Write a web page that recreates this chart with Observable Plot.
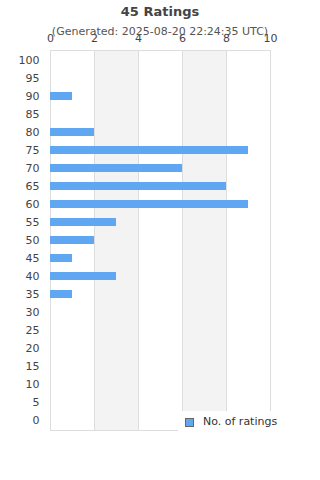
<!DOCTYPE html>
<html>
<head>
<meta charset="utf-8">
<script src="https://cdn.jsdelivr.net/npm/d3@7"></script>
<script src="https://cdn.jsdelivr.net/npm/@observablehq/plot@0.6"></script>
<style>
  html, body { margin: 0; padding: 0; background: #fff; }
  #wrap { position: relative; width: 320px; height: 480px; font-family: "DejaVu Sans", sans-serif; }
  #wrap svg { position: absolute; left: 0; top: 0; }
  .title { position: absolute; left: 0; width: 320px; text-align: center; top: 4px; font-size: 13px; font-weight: bold; color: #444; }
  .subtitle { position: absolute; left: 0; width: 320px; text-align: center; top: 25px; font-size: 11px; color: #555; z-index: 2; }
  .legend { position: absolute; left: 178px; top: 411px; width: 142px; height: 24px; background: #fff; font-size: 11px; color: #333; }
  .legend .sw { position: absolute; left: 7px; top: 7px; width: 7px; height: 7px; background: #5fa6f3; border: 1px solid #666; }
  .legend .lb { position: absolute; left: 25px; top: 4px; }
</style>
</head>
<body>
<div id="wrap">
  <div class="title">45 Ratings</div>
  <div class="subtitle">(Generated: 2025-08-20 22:24:35 UTC)</div>
</div>
<script>
const titleText = "45 Ratings";
const subtitleText = "(Generated: 2025-08-20 22:24:35 UTC)";
const seriesName = "No. of ratings";
const ratingBins = [100, 95, 90, 85, 80, 75, 70, 65, 60, 55, 50, 45, 40, 35, 30, 25, 20, 15, 10, 5, 0];
const counts =     [0,   0,  1,  0,  2,  9,  6,  8,  9,  3,  2,  1,  3,  1,  0,  0,  0,  0,  0,  0, 0];
const xTicks = [0, 2, 4, 6, 8, 10];
const stripes = [{x1: 2, x2: 4}, {x1: 6, x2: 8}];

const data = ratingBins.map((b, i) => ({bin: b, count: counts[i]}));

const chart = Plot.plot({
  width: 320,
  height: 480,
  marginTop: 50,
  marginBottom: 50,
  marginLeft: 50,
  marginRight: 50,
  style: {fontFamily: "DejaVu Sans, sans-serif", fontSize: "11px", color: "#444", background: "transparent"},
  x: {domain: [0, 10], ticks: xTicks, axis: "top", tickSize: 0, tickPadding: 9, label: null},
  y: {type: "band", domain: ratingBins, paddingInner: 0.56, paddingOuter: 0.28, tickSize: 0, tickPadding: 11, label: null},
  marks: [
    Plot.rectX(stripes, {x1: "x1", x2: "x2", fill: "#f3f3f3"}),
    Plot.ruleX(xTicks, {stroke: "#dddddd", strokeWidth: 1}),
    Plot.frame({stroke: "#dddddd"}),
    Plot.barX(data, {x: "count", y: "bin", fill: "#5fa6f3"})
  ]
});

const wrap = document.getElementById("wrap");
wrap.insertBefore(chart, wrap.firstChild);

const legend = document.createElement("div");
legend.className = "legend";
legend.innerHTML = '<div class="sw"></div><div class="lb"></div>';
legend.querySelector(".lb").textContent = seriesName;
wrap.appendChild(legend);
</script>
</body>
</html>
